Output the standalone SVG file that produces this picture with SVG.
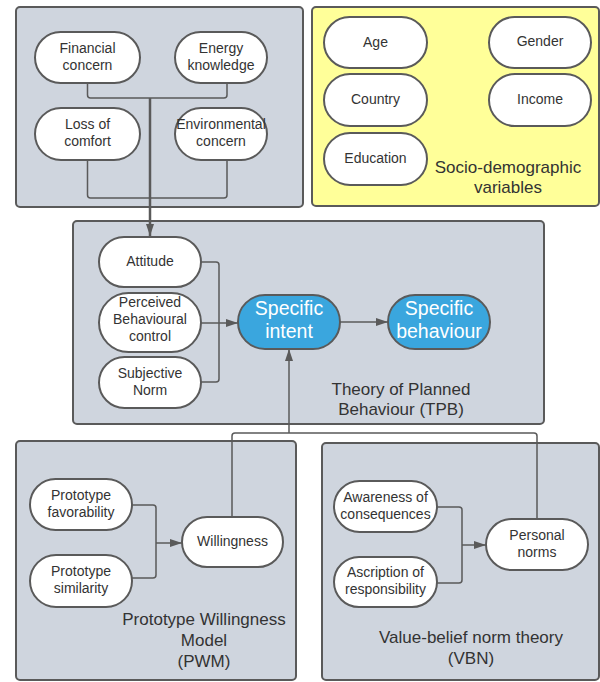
<svg xmlns="http://www.w3.org/2000/svg" width="600" height="682" viewBox="0 0 600 682">
<style>
.box{fill:#cfd5de;stroke:#5a5a5a;stroke-width:2}
.ybox{fill:#ffff99;stroke:#5a5a5a;stroke-width:2}
.node{fill:#ffffff;stroke:#5a5a5a;stroke-width:2}
.bnode{fill:#3aa6de;stroke:#5a5a5a;stroke-width:2}
text{font-family:"Liberation Sans",Arial,sans-serif;fill:#333333;text-anchor:middle}
.t{font-size:14px}
.tl{font-size:17px}
.tb{font-size:19.5px;fill:#ffffff}
.c{fill:none;stroke:#5a5a5a;stroke-width:1.5}
.cm{fill:none;stroke:#5a5a5a;stroke-width:2.5}
</style>
<defs>
<marker id="ah" markerWidth="12" markerHeight="8" refX="12" refY="4" orient="auto" markerUnits="userSpaceOnUse">
<path d="M0,0 L12,4 L0,8 z" fill="#5a5a5a"/>
</marker>
</defs>

<g id="containers">
<rect id="factors" class="box" x="16" y="7" width="287" height="200" rx="4"/>
<rect id="socio" class="ybox" x="312" y="7" width="287" height="199" rx="4"/>
<rect id="tpb" class="box" x="73" y="221" width="471" height="203" rx="4"/>
<rect id="pwm" class="box" x="16" y="441" width="280" height="239" rx="4"/>
<rect id="vbn" class="box" x="322" y="443" width="277" height="237" rx="4"/>
</g>

<g id="connectors">
<path class="c" d="M87.5,83 V95 Q87.5,98 90.5,98 H224 Q227,98 227,95 V83"/>
<path class="c" d="M87.5,160 V195 Q87.5,198 90.5,198 H224 Q227,198 227,195 V160"/>
<path class="cm" d="M150,98 V236" marker-end="url(#ah)"/>
<path class="c" d="M201,262 H216 Q219,262 219,265 V379 Q219,382 216,382 H201"/>
<path class="c" d="M201,323 H238" marker-end="url(#ah)"/>
<path class="c" d="M340,322 H388" marker-end="url(#ah)"/>
<path class="c" d="M232,517 V436 Q232,433 235,433 H534 Q537,433 537,436 V519"/>
<path class="c" d="M289,433 V349" marker-end="url(#ah)"/>
<path class="c" d="M132,505 H153 Q156,505 156,508 V575 Q156,578 153,578 H132"/>
<path class="c" d="M156,543 H182" marker-end="url(#ah)"/>
<path class="c" d="M437,507 H459 Q462,507 462,510 V580 Q462,583 459,583 H437"/>
<path class="c" d="M462,545 H486" marker-end="url(#ah)"/>
</g>

<g id="financial"><rect class="node" x="35" y="32" width="105" height="51" rx="25.5"/><text class="t" x="87.5" y="53">Financial</text><text class="t" x="87.5" y="70">concern</text></g>
<g id="energy"><rect class="node" x="175" y="32" width="92" height="51" rx="25.5"/><text class="t" x="221" y="53">Energy</text><text class="t" x="221" y="70">knowledge</text></g>
<g id="loss"><rect class="node" x="35" y="108" width="105" height="52" rx="26"/><text class="t" x="87.5" y="129">Loss of</text><text class="t" x="87.5" y="146">comfort</text></g>
<g id="environmental"><rect class="node" x="175" y="108" width="92" height="52" rx="26"/><text class="t" x="221" y="129">Environmental</text><text class="t" x="221" y="146">concern</text></g>

<g id="age"><rect class="node" x="324" y="17" width="103" height="51" rx="25.5"/><text class="t" x="375.5" y="47">Age</text></g>
<g id="gender"><rect class="node" x="489" y="17" width="102" height="51" rx="25.5"/><text class="t" x="540" y="46">Gender</text></g>
<g id="country"><rect class="node" x="324" y="74" width="103" height="52" rx="26"/><text class="t" x="375.5" y="104">Country</text></g>
<g id="income"><rect class="node" x="489" y="74" width="102" height="52" rx="26"/><text class="t" x="540" y="104">Income</text></g>
<g id="education"><rect class="node" x="324" y="133" width="103" height="52" rx="26"/><text class="t" x="375.5" y="163">Education</text></g>
<g id="socio-label"><text class="tl" x="508" y="173">Socio-demographic</text><text class="tl" x="508" y="193">variables</text></g>

<g id="attitude"><rect class="node" x="99" y="237" width="102" height="50" rx="25"/><text class="t" x="150" y="266">Attitude</text></g>
<g id="pbc"><rect class="node" x="99" y="293" width="102" height="59" rx="29.5"/><text class="t" x="150" y="307">Perceived</text><text class="t" x="150" y="324">Behavioural</text><text class="t" x="150" y="341">control</text></g>
<g id="subjective"><rect class="node" x="99" y="357" width="102" height="51" rx="25.5"/><text class="t" x="150" y="378">Subjective</text><text class="t" x="150" y="395">Norm</text></g>
<g id="intent"><rect class="bnode" x="238" y="295" width="102" height="54" rx="27"/><text class="tb" x="289" y="315">Specific</text><text class="tb" x="289" y="338">intent</text></g>
<g id="behaviour"><rect class="bnode" x="388" y="295" width="102" height="54" rx="27"/><text class="tb" x="439" y="315">Specific</text><text class="tb" x="439" y="338">behaviour</text></g>
<g id="tpb-label"><text class="tl" x="401" y="395">Theory of Planned</text><text class="tl" x="401" y="415">Behaviour (TPB)</text></g>

<g id="favorability"><rect class="node" x="30" y="479" width="102" height="51" rx="25.5"/><text class="t" x="81" y="500">Prototype</text><text class="t" x="81" y="517">favorability</text></g>
<g id="similarity"><rect class="node" x="30" y="555" width="102" height="52" rx="26"/><text class="t" x="81" y="576">Prototype</text><text class="t" x="81" y="593">similarity</text></g>
<g id="willingness"><rect class="node" x="182" y="517" width="101" height="50" rx="25"/><text class="t" x="232.5" y="546">Willingness</text></g>
<g id="pwm-label"><text class="tl" x="204" y="625">Prototype Willingness</text><text class="tl" x="204" y="646">Model</text><text class="tl" x="204" y="667">(PWM)</text></g>

<g id="awareness"><rect class="node" x="334" y="481" width="103" height="51" rx="25.5"/><text class="t" x="385.5" y="502">Awareness of</text><text class="t" x="385.5" y="519">consequences</text></g>
<g id="ascription"><rect class="node" x="334" y="557" width="103" height="50" rx="25"/><text class="t" x="385.5" y="577">Ascription of</text><text class="t" x="385.5" y="594">responsibility</text></g>
<g id="personal"><rect class="node" x="486" y="519" width="102" height="51" rx="25.5"/><text class="t" x="537" y="540">Personal</text><text class="t" x="537" y="557">norms</text></g>
<g id="vbn-label"><text class="tl" x="471" y="643">Value-belief norm theory</text><text class="tl" x="471" y="664">(VBN)</text></g>
</svg>
